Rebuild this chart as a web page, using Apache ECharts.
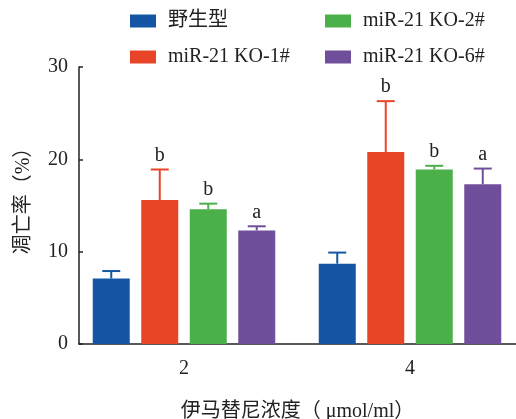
<!DOCTYPE html>
<html>
<head>
<meta charset="utf-8">
<script src="https://cdn.jsdelivr.net/npm/echarts@6/dist/echarts.min.js"></script>
<style>
html,body{margin:0;padding:0;background:#fff;}
#chart{width:516px;height:419px;}
</style>
</head>
<body>
<div id="chart"></div>
<script>
// ---- data ----
const categories = [2, 4];
const seriesNames = ['野生型', 'miR-21 KO-1#', 'miR-21 KO-2#', 'miR-21 KO-6#'];
const wildType = [7.1, 8.7];
const ko1 = [15.6, 20.8];
const ko2 = [14.6, 18.9];
const ko6 = [12.3, 17.3];
const wildTypeErr = [0.8, 1.2];
const ko1Err = [3.3, 5.5];
const ko2Err = [0.6, 0.4];
const ko6Err = [0.45, 1.7];
const wildTypeSig = ['', ''];
const ko1Sig = ['b', 'b'];
const ko2Sig = ['b', 'b'];
const ko6Sig = ['a', 'a'];
const yTicks = [0, 10, 20, 30];

const colors = ['#1556a4', '#e84428', '#4bb04a', '#6f4f9b'];
const values = [wildType, ko1, ko2, ko6];
const errs = [wildTypeErr, ko1Err, ko2Err, ko6Err];
const sigs = [wildTypeSig, ko1Sig, ko2Sig, ko6Sig];

const FONT = "'Liberation Serif', 'Noto Sans CJK SC', serif";
const BAR_W = 37, BAR_STEP = 48.5;

const chart = echarts.init(document.getElementById('chart'), null, {renderer: 'canvas'});

const barSeries = seriesNames.map((name, i) => ({
  name: name,
  type: 'bar',
  barWidth: BAR_W,
  barGap: ((BAR_STEP - BAR_W) / BAR_W * 100) + '%',
  itemStyle: {color: colors[i]},
  data: categories.map((c, j) => [c, values[i][j]])
}));

function makeErr(i) {
  return {
    type: 'custom',
    name: seriesNames[i] + '-err',
    z: 3,
    silent: true,
    renderItem: function (params, api) {
      const x = api.value(0), v = api.value(1), e = api.value(2);
      const off = (i - 1.5) * BAR_STEP;
      const base = api.coord([x, v]);
      const top = api.coord([x, v + e]);
      const cx = base[0] + off;
      const half = 9;
      const children = [
        {type: 'line', shape: {x1: cx, y1: base[1], x2: cx, y2: top[1]},
         style: {stroke: colors[i], lineWidth: 2}},
        {type: 'line', shape: {x1: cx - half, y1: top[1], x2: cx + half, y2: top[1]},
         style: {stroke: colors[i], lineWidth: 2}}
      ];
      const lab = sigs[i][params.dataIndex];
      if (lab) {
        children.push({type: 'text', x: cx, y: top[1] - 4,
          style: {text: lab, font: '20px ' + FONT, fill: '#222', align: 'center', verticalAlign: 'bottom'}});
      }
      return {type: 'group', children: children};
    },
    data: categories.map((c, j) => [c, values[i][j], errs[i][j]])
  };
}

const errSeries = seriesNames.map((n, i) => makeErr(i));

const legendCommon = {
  orient: 'vertical',
  padding: 0,
  itemWidth: 26,
  itemHeight: 13,
  itemGap: 16,
  icon: 'rect',
  textStyle: {fontFamily: FONT, fontSize: 20, color: '#222', padding: [0, 0, 0, 7]}
};

chart.setOption({
  animation: false,
  backgroundColor: '#fff',
  legend: [
    Object.assign({}, legendCommon, {left: 130, top: 11, data: [seriesNames[0], seriesNames[1]]}),
    Object.assign({}, legendCommon, {left: 325, top: 11, data: [seriesNames[2], seriesNames[3]]})
  ],
  grid: {left: 79, right: 0, top: 67, bottom: 75, containLabel: false, outerBoundsMode: 'none'},
  xAxis: {
    type: 'value',
    min: 1.0708,
    max: 4.938,
    name: '伊马替尼浓度（ μmol/ml）',
    nameLocation: 'middle',
    nameGap: 58,
    nameTextStyle: {fontFamily: FONT, fontSize: 20, color: '#222', padding: [0, 0, 0, 0]},
    axisLine: {lineStyle: {color: '#222', width: 1.5}},
    axisTick: {show: false},
    splitLine: {show: false},
    axisLabel: {customValues: categories, fontFamily: FONT, fontSize: 20, color: '#222', margin: 15}
  },
  yAxis: {
    type: 'value',
    min: 0,
    max: 30,
    interval: 10,
    name: '凋亡率（%）',
    nameLocation: 'middle',
    nameGap: 45,
    nameTextStyle: {fontFamily: FONT, fontSize: 20, color: '#222', padding: [0, 0, 0, 19]},
    axisLine: {show: true, lineStyle: {color: '#222', width: 1.5}},
    axisTick: {show: true, inside: true, length: 4, lineStyle: {color: '#222', width: 1.5}},
    splitLine: {show: false},
    axisLabel: {fontFamily: FONT, fontSize: 20, color: '#222', margin: 11,
      customValues: yTicks}
  },
  series: barSeries.concat(errSeries)
});
</script>
</body>
</html>
